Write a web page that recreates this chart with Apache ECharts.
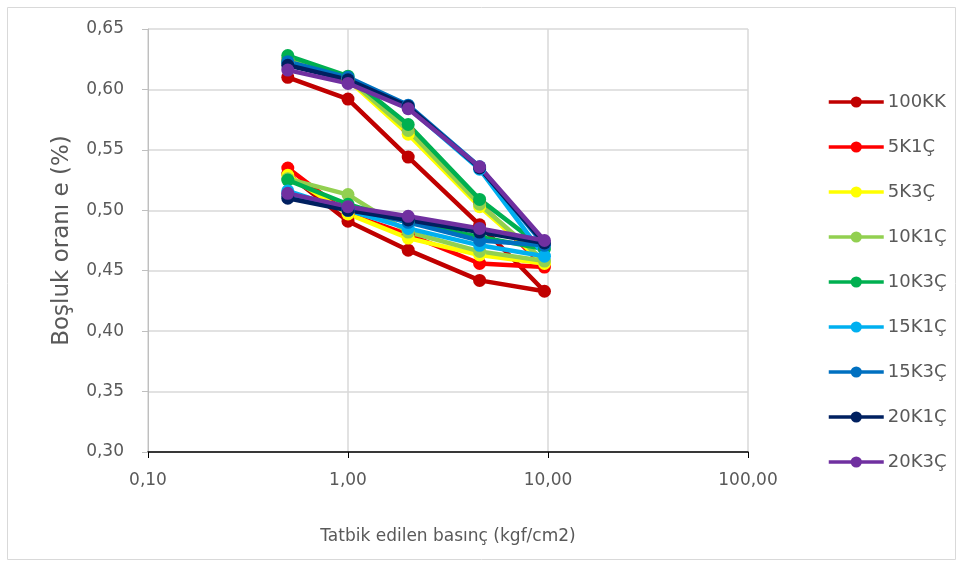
<!DOCTYPE html>
<html>
<head>
<meta charset="utf-8">
<script src="https://cdn.jsdelivr.net/npm/echarts@6/dist/echarts.min.js"></script>
<style>html,body{margin:0;padding:0;background:#fff}#c{width:963px;height:567px}</style>
</head>
<body>
<div id="c"></div>
<script>
// Pressure steps: loading then unloading
var pressures = [0.5, 1.0, 2.0, 4.55, 9.6, 4.55, 2.0, 1.0, 0.5];
var seriesNames = ['100KK','5K1Ç','5K3Ç','10K1Ç','10K3Ç','15K1Ç','15K3Ç','20K1Ç','20K3Ç'];
var seriesColors = ['#C00000','#FF0000','#FFFF00','#92D050','#00B050','#00B0F0','#0070C0','#002060','#7030A0'];
var s100KK = [0.610, 0.592, 0.544, 0.488, 0.433, 0.442, 0.467, 0.491, 0.530];
var s5K1C  = [0.624, 0.609, 0.566, 0.506, 0.453, 0.456, 0.480, 0.497, 0.535];
var s5K3C  = [0.623, 0.608, 0.563, 0.503, 0.456, 0.463, 0.477, 0.497, 0.529];
var s10K1C = [0.625, 0.609, 0.566, 0.505, 0.458, 0.466, 0.482, 0.513, 0.526];
var s10K3C = [0.628, 0.611, 0.571, 0.509, 0.468, 0.478, 0.490, 0.505, 0.525];
var s15K1C = [0.622, 0.609, 0.585, 0.534, 0.462, 0.471, 0.485, 0.500, 0.516];
var s15K3C = [0.623, 0.610, 0.587, 0.536, 0.471, 0.475, 0.490, 0.502, 0.513];
var s20K1C = [0.620, 0.608, 0.586, 0.535, 0.473, 0.482, 0.492, 0.500, 0.510];
var s20K3C = [0.616, 0.605, 0.584, 0.536, 0.475, 0.485, 0.495, 0.503, 0.514];
var allValues = [s100KK, s5K1C, s5K3C, s10K1C, s10K3C, s15K1C, s15K3C, s20K1C, s20K3C];

var FONT = '"DejaVu Sans", sans-serif';
var chart = echarts.init(document.getElementById('c'), null, {renderer: 'canvas'});
var series = seriesNames.map(function (n, i) {
  return {
    name: n,
    type: 'line',
    data: pressures.map(function (p, k) { return [p, allValues[i][k]]; }),
    symbol: 'circle',
    symbolSize: 13,
    showAllSymbol: true,
    lineStyle: {width: 4.5, color: seriesColors[i]},
    itemStyle: {color: seriesColors[i]},
    emphasis: {disabled: true},
    animation: false
  };
});
chart.setOption({
  animation: false,
  color: seriesColors,
  textStyle: {fontFamily: FONT},
  graphic: [{
    type: 'rect', shape: {x: 7.5, y: 7.5, width: 948, height: 552},
    style: {fill: 'none', stroke: '#d9d9d9', lineWidth: 1}, silent: true, z: -1
  }],
  grid: {left: 148, right: 215, top: 29, bottom: 115, containLabel: false},
  legend: {
    orient: 'vertical', left: 822, top: 88,
    itemWidth: 55, itemHeight: 14, itemGap: 27,
    lineStyle: {width: 3.5},
    textStyle: {fontSize: 18, color: '#595959', fontFamily: FONT, padding: [0,0,0,-1], lineHeight: 14},
    data: seriesNames
  },
  xAxis: {
    type: 'log', logBase: 10, min: 0.1, max: 100,
    name: 'Tatbik edilen basınç (kgf/cm2)', nameLocation: 'middle', nameGap: 76,
    nameTextStyle: {fontSize: 17, color: '#595959', fontFamily: FONT},
    axisLine: {show: true, lineStyle: {color: '#000', width: 1.5}},
    axisTick: {show: true, length: 6, lineStyle: {color: '#000'}},
    minorTick: {show: false},
    splitLine: {show: true, lineStyle: {color: '#d9d9d9', width: 1.5}},
    axisLabel: {fontSize: 17, color: '#595959', margin: 20, fontFamily: FONT,
      formatter: function (v) { return v.toFixed(2).replace('.', ','); }}
  },
  yAxis: {
    type: 'value', min: 0.30, max: 0.65, interval: 0.05,
    name: 'Boşluk oranı e (%)', nameLocation: 'middle', nameGap: 74,
    nameTextStyle: {fontSize: 23, color: '#595959', fontFamily: FONT},
    axisLine: {show: true, lineStyle: {color: '#bfbfbf', width: 1}},
    axisTick: {show: true, length: 6, lineStyle: {color: '#bfbfbf'}},
    splitLine: {show: true, lineStyle: {color: '#d9d9d9', width: 1.5}},
    axisLabel: {fontSize: 17, color: '#595959', margin: 24, fontFamily: FONT,
      formatter: function (v) { return v.toFixed(2).replace('.', ','); }}
  },
  series: series
});
</script>
</body>
</html>
